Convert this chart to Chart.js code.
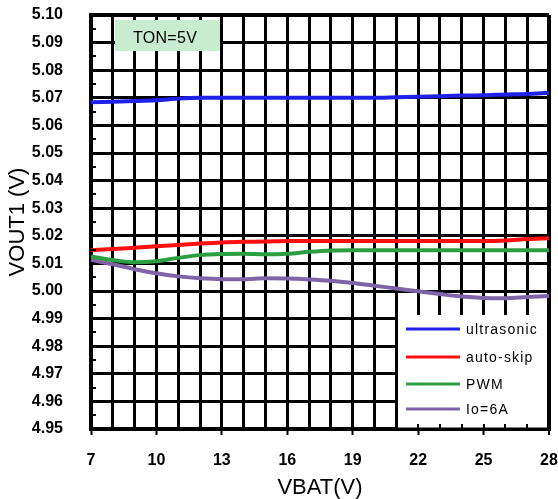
<!DOCTYPE html>
<html>
<head>
<meta charset="utf-8">
<script src="https://cdn.jsdelivr.net/npm/chart.js@4/dist/chart.umd.min.js"></script>
<style>
  html, body { margin: 0; padding: 0; background: #fff; }
  #wrap { width: 558px; height: 499px; }
</style>
</head>
<body>
<div id="wrap"><canvas id="c" width="558" height="499"></canvas></div>
<script>
// ---- data ----
const vbat = [7,8,9,10,11,12,13,14,15,16,17,18,19,20,21,22,23,24,25,26,27,28];
const ultrasonic = [5.0684,5.0686,5.0688,5.0691,5.0697,5.0700,5.0700,5.0700,5.0700,5.0700,5.0700,5.0700,5.0700,5.0700,5.0702,5.0704,5.0706,5.0708,5.0709,5.0712,5.0714,5.0718];
const autoSkip   = [5.0148,5.0152,5.0157,5.0162,5.0167,5.0172,5.0176,5.0178,5.0179,5.0181,5.0181,5.0181,5.0181,5.0181,5.0181,5.0181,5.0181,5.0181,5.0181,5.0183,5.0188,5.0191];
const pwm        = [5.0125,5.0112,5.0104,5.0108,5.0120,5.0130,5.0134,5.0135,5.0133,5.0135,5.0142,5.0147,5.0148,5.0148,5.0148,5.0148,5.0148,5.0148,5.0148,5.0148,5.0148,5.0148];
const io6A       = [5.0113,5.0097,5.0079,5.0064,5.0053,5.0046,5.0043,5.0043,5.0046,5.0045,5.0042,5.0037,5.0029,5.0019,5.0009,4.9999,4.9989,4.9980,4.9975,4.9974,4.9978,4.9982];
const seriesNames = ['ultrasonic','auto-skip','PWM','Io=6A'];
const seriesColors = ['#2020e8','#ff1010','#2ca040','#8064a8'];
const xTicks = [7,8,9,10,11,12,13,14,15,16,17,18,19,20,21,22,23,24,25,26,27,28];
const xLabelTicks = [7,10,13,16,19,22,25,28];
const yTicks = [4.95,4.96,4.97,4.98,4.99,5.00,5.01,5.02,5.03,5.04,5.05,5.06,5.07,5.08,5.09,5.10];
const annotationText = 'TON=5V';
const xTitle = 'VBAT(V)';
const yTitle = 'VOUT1 (V)';

const seriesData = [ultrasonic, autoSkip, pwm, io6A];

const zeroPad = s => { s.paddingTop = 0; s.paddingBottom = 0; s.paddingLeft = 0; s.paddingRight = 0; };

const decor = {
  id: 'decor',
  afterDatasetsDraw(chart) {
    const ctx = chart.ctx;
    const xs = chart.scales.x, ys = chart.scales.y;
    const area = chart.chartArea;
    ctx.save();
    // left axis minor inward ticks at half steps
    ctx.strokeStyle = '#000';
    ctx.lineWidth = 2;
    for (let i = 0; i < yTicks.length - 1; i++) {
      const v = (yTicks[i] + yTicks[i+1]) / 2;
      const py = Math.round(ys.getPixelForValue(v));
      ctx.beginPath();
      ctx.moveTo(area.left, py);
      ctx.lineTo(area.left + 5, py);
      ctx.stroke();
    }
    // annotation box
    ctx.fillStyle = '#c8ecd0';
    ctx.fillRect(115, 20, 105, 31);
    ctx.fillStyle = '#000';
    ctx.font = '16px "Liberation Sans", Arial, sans-serif';
    ctx.textAlign = 'center';
    ctx.textBaseline = 'middle';
    try { ctx.letterSpacing = '0.3px'; } catch(e) {}
    ctx.fillText(annotationText, 165, 39);
    // legend box
    const lx = 397, ly = 315;
    const rx = xs.getPixelForValue(28) - 2;
    const by = area.bottom - 1.5;
    ctx.fillStyle = '#fff';
    ctx.fillRect(lx, ly, rx - lx, by - ly);
    ctx.strokeStyle = '#000';
    ctx.lineWidth = 2;
    ctx.beginPath();
    ctx.moveTo(lx, ly);
    ctx.lineTo(lx, area.bottom);
    ctx.stroke();
    // inward ticks on bottom axis inside legend
    ctx.lineWidth = 2;
    xTicks.forEach(v => {
      const px = Math.round(xs.getPixelForValue(v));
      if (px > lx + 2 && px < rx - 2) {
        ctx.beginPath();
        ctx.moveTo(px, area.bottom);
        ctx.lineTo(px, area.bottom - 5);
        ctx.stroke();
      }
    });
    // legend entries
    const rows = [329, 357, 384, 409];
    ctx.font = '14px "Liberation Sans", Arial, sans-serif';
    ctx.textAlign = 'left';
    ctx.textBaseline = 'middle';
    try { ctx.letterSpacing = '1.2px'; } catch(e) {}
    seriesNames.forEach((n, i) => {
      ctx.strokeStyle = seriesColors[i];
      ctx.lineWidth = 3;
      ctx.beginPath();
      ctx.moveTo(406, rows[i]);
      ctx.lineTo(460, rows[i]);
      ctx.stroke();
      ctx.fillStyle = '#000';
      ctx.fillText(n, 466, rows[i] + 1);
    });
    ctx.restore();
  }
};

new Chart(document.getElementById('c'), {
  type: 'line',
  data: {
    datasets: seriesNames.map((n, i) => ({
      label: n,
      data: vbat.map((x, j) => ({x: x, y: seriesData[i][j]})),
      borderColor: seriesColors[i],
      backgroundColor: seriesColors[i],
      borderWidth: 4,
      pointRadius: 0,
      tension: 0.4,
      cubicInterpolationMode: 'monotone',
      fill: false
    }))
  },
  options: {
    responsive: false,
    animation: false,
    devicePixelRatio: 1,
    layout: { padding: { top: 15, right: 9, left: 0, bottom: 0 } },
    plugins: { legend: { display: false }, tooltip: { enabled: false } },
    scales: {
      x: {
        type: 'linear',
        min: 7, max: 28,
        afterBuildTicks: s => { s.ticks = xTicks.map(v => ({value: v})); },
        afterFit: s => { s.height = 70; zeroPad(s); },
        ticks: {
          autoSkip: false,
          maxRotation: 0,
          padding: 16,
          color: '#000',
          font: { family: '"Liberation Sans", Arial, sans-serif', size: 16, weight: 'bold' },
          callback: v => xLabelTicks.includes(v) ? String(v) : ''
        },
        grid: {
          color: '#000',
          lineWidth: c => (c.tick && c.tick.value === 28) ? 4 : 3,
          drawTicks: true,
          tickLength: 6,
          tickWidth: 2,
          tickColor: c => (c.tick && xLabelTicks.includes(c.tick.value)) ? '#000' : 'rgba(0,0,0,0)'
        },
        border: { display: true, color: '#000', width: 4 },
        title: {
          display: true,
          text: xTitle,
          color: '#000',
          font: { family: '"Liberation Sans", Arial, sans-serif', size: 22, lineHeight: 1 },
          padding: { top: 0, bottom: 0 }
        }
      },
      y: {
        type: 'linear',
        min: 4.95, max: 5.10,
        afterBuildTicks: s => { s.ticks = yTicks.map(v => ({value: v})); },
        afterFit: s => { s.width = 91; zeroPad(s); },
        ticks: {
          padding: 28,
          color: '#000',
          font: { family: '"Liberation Sans", Arial, sans-serif', size: 16, weight: 'bold' },
          callback: v => Number(v).toFixed(2)
        },
        grid: {
          color: '#000',
          lineWidth: c => (c.tick && c.tick.value > 5.095) ? 4 : 3,
          drawTicks: false
        },
        border: { display: true, color: '#000', width: 4 },
        title: {
          display: true,
          text: yTitle,
          color: '#000',
          font: { family: '"Liberation Sans", Arial, sans-serif', size: 22, lineHeight: 1.2 },
          padding: { top: 5, bottom: 0 }
        }
      }
    }
  },
  plugins: [decor]
});
</script>
</body>
</html>
